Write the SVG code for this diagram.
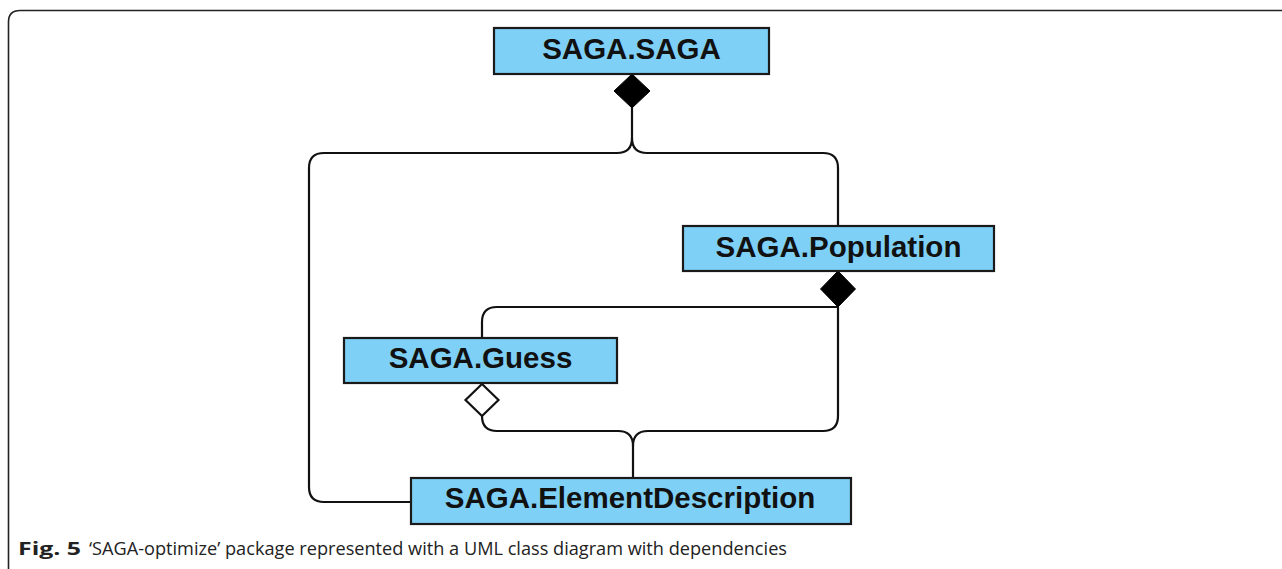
<svg xmlns="http://www.w3.org/2000/svg" width="1282" height="569" viewBox="0 0 1282 569">
<style>
.box{fill:#7fd0f6;stroke:#1a1a1a;stroke-width:2.2}
.lbl{font-family:"Liberation Sans",Arial,sans-serif;font-weight:bold;font-size:29.5px;fill:#111;text-anchor:middle}
.con{fill:none;stroke:#111;stroke-width:2.2}
.dia{fill:#000;stroke:#000;stroke-width:1}
.dia-o{fill:#fff;stroke:#111;stroke-width:2.2}
.cap{font-family:"Open Sans","Noto Sans",sans-serif;font-size:18px;fill:#222}
</style>
<path d="M8.5,569 V22 Q8.5,10.5 20,10.5 H1282" fill="none" stroke="#222" stroke-width="1.6"/>
<g id="connectors">
<path class="con" d="M632,108 V138 Q632,153 617,153 H324 Q309,153 309,168 V487 Q309,502 324,502 H411"/>
<path class="con" d="M632,138 Q632,153 647,153 H823 Q838,153 838,168 V226"/>
<path class="con" d="M838,307 H497 Q482,307 482,322 V338"/>
<path class="con" d="M838,307 V416 Q838,431 823,431 H648 Q633,431 633,446 V478"/>
<path class="con" d="M482,416 Q482,431 497,431 H618 Q633,431 633,446"/>
<polygon class="dia" points="632,74 650,91 632,108 614,91"/>
<polygon class="dia" points="838,271 855.5,289 838,307 820.5,289"/>
<polygon class="dia-o" points="482,384 498.5,400 482,416 465.5,400"/>
</g>
<g id="node-saga">
<rect class="box" x="494" y="28" width="275" height="46"/>
<text class="lbl" x="631.5" y="59">SAGA.SAGA</text>
</g>
<g id="node-population">
<rect class="box" x="683" y="226" width="311" height="45"/>
<text class="lbl" x="838.5" y="257">SAGA.Population</text>
</g>
<g id="node-guess">
<rect class="box" x="344" y="338" width="273" height="45"/>
<text class="lbl" x="480.5" y="368">SAGA.Guess</text>
</g>
<g id="node-elementdescription">
<rect class="box" x="411" y="478" width="440" height="46"/>
<text class="lbl" x="630" y="508">SAGA.ElementDescription</text>
</g>
<g id="caption">
<text class="cap" x="18" y="555" font-weight="bold" textLength="63" lengthAdjust="spacingAndGlyphs">Fig. 5</text>
<text class="cap" x="89" y="555" textLength="698" lengthAdjust="spacingAndGlyphs">‘SAGA-optimize’ package represented with a UML class diagram with dependencies</text>
</g>
</svg>
